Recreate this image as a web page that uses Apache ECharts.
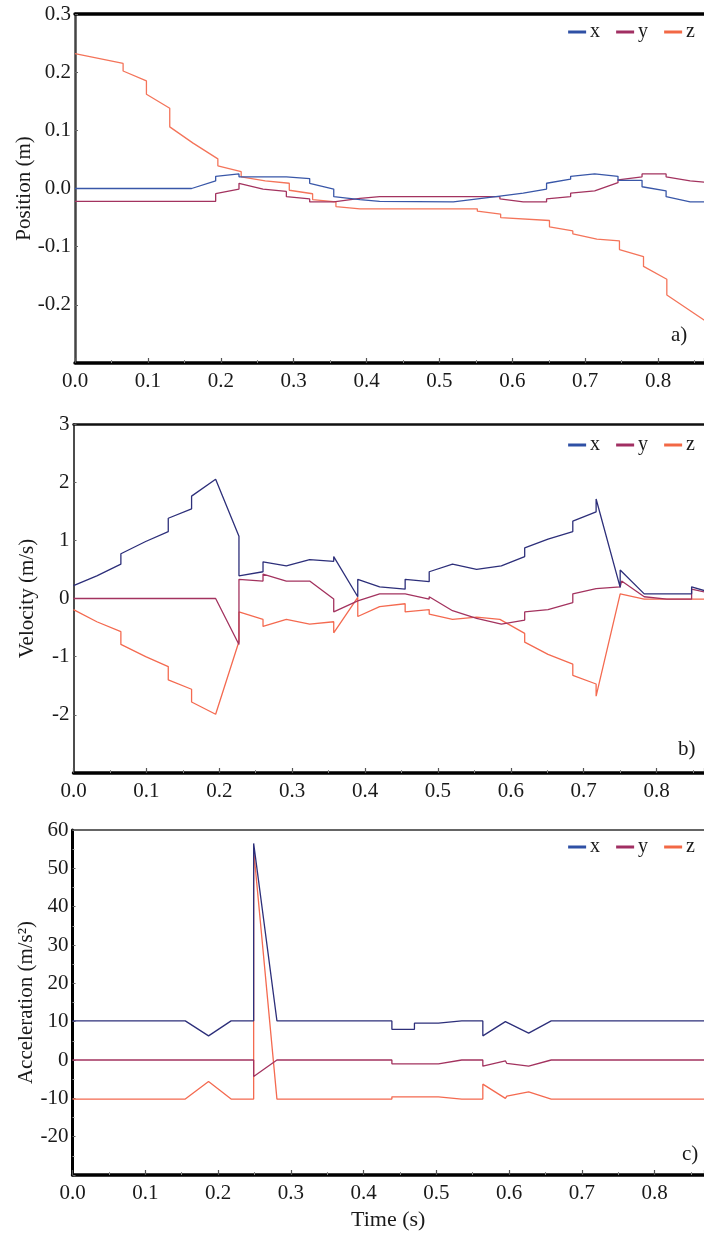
<!DOCTYPE html>
<html>
<head>
<meta charset="utf-8">
<script src="https://cdn.jsdelivr.net/npm/echarts@6/dist/echarts.min.js"></script>
<style>
html,body{margin:0;padding:0;background:#fff;}
#c{width:704px;height:1236px;}
</style>
</head>
<body>
<div id="c"></div>
<script>
// ---- Data: [time (s), value] ----
const seriesNames = ['x', 'y', 'z'];
const xTickLabels = ['0.0','0.1','0.2','0.3','0.4','0.5','0.6','0.7','0.8'];

const posX = [[0,0.0],[0.160,0.0],[0.193,0.013],[0.193,0.021],[0.225,0.025],[0.225,0.020],[0.290,0.020],[0.290,0.017],[0.322,0.017],[0.322,0.009],[0.355,-0.001],[0.355,-0.014],[0.391,-0.019],[0.418,-0.022],[0.519,-0.023],[0.583,-0.013],[0.615,-0.008],[0.647,-0.001],[0.647,0.009],[0.680,0.016],[0.680,0.021],[0.713,0.025],[0.745,0.021],[0.745,0.014],[0.778,0.014],[0.778,0.003],[0.811,-0.004],[0.811,-0.014],[0.844,-0.023],[0.87,-0.023]];
const posY = [[0,-0.022],[0.193,-0.022],[0.193,-0.009],[0.225,-0.001],[0.225,0.009],[0.258,-0.001],[0.290,-0.005],[0.290,-0.014],[0.322,-0.018],[0.322,-0.023],[0.355,-0.023],[0.391,-0.017],[0.418,-0.014],[0.583,-0.014],[0.583,-0.018],[0.615,-0.023],[0.647,-0.023],[0.647,-0.018],[0.680,-0.014],[0.680,-0.008],[0.713,-0.004],[0.745,0.010],[0.745,0.015],[0.778,0.020],[0.778,0.025],[0.811,0.025],[0.811,0.020],[0.844,0.013],[0.87,0.010]];
const posZ = [[0,0.232],[0.066,0.215],[0.066,0.202],[0.098,0.185],[0.098,0.162],[0.130,0.138],[0.130,0.106],[0.162,0.078],[0.196,0.051],[0.196,0.039],[0.228,0.029],[0.228,0.020],[0.261,0.013],[0.294,0.009],[0.294,-0.003],[0.326,-0.009],[0.326,-0.019],[0.358,-0.023],[0.358,-0.031],[0.391,-0.035],[0.552,-0.035],[0.552,-0.039],[0.584,-0.044],[0.584,-0.050],[0.651,-0.055],[0.651,-0.066],[0.683,-0.073],[0.683,-0.078],[0.716,-0.087],[0.747,-0.090],[0.747,-0.105],[0.780,-0.117],[0.780,-0.134],[0.812,-0.156],[0.812,-0.183],[0.87,-0.232]];

const velX = [[0,0.22],[0.032,0.39],[0.065,0.59],[0.065,0.77],[0.099,0.98],[0.130,1.15],[0.130,1.38],[0.162,1.54],[0.162,1.76],[0.195,2.05],[0.227,1.07],[0.227,0.39],[0.260,0.46],[0.260,0.63],[0.292,0.56],[0.324,0.67],[0.357,0.64],[0.357,0.72],[0.390,0.03],[0.390,0.33],[0.420,0.20],[0.455,0.16],[0.455,0.33],[0.488,0.29],[0.488,0.46],[0.520,0.59],[0.553,0.50],[0.587,0.56],[0.619,0.72],[0.619,0.87],[0.651,1.02],[0.685,1.15],[0.685,1.33],[0.717,1.49],[0.717,1.71],[0.750,0.19],[0.750,0.49],[0.783,0.08],[0.848,0.08],[0.848,0.20],[0.87,0.12]];
const velY = [[0,0],[0.195,0],[0.227,-0.79],[0.227,0.33],[0.260,0.30],[0.260,0.42],[0.292,0.30],[0.324,0.30],[0.357,-0.01],[0.357,-0.23],[0.390,-0.04],[0.420,0.08],[0.455,0.08],[0.488,-0.01],[0.488,0.03],[0.520,-0.21],[0.553,-0.34],[0.587,-0.44],[0.619,-0.37],[0.619,-0.23],[0.651,-0.19],[0.685,-0.07],[0.685,0.08],[0.717,0.17],[0.750,0.20],[0.752,0.30],[0.783,0.03],[0.814,-0.01],[0.848,-0.01],[0.848,0.16],[0.87,0.10]];
const velZ = [[0,-0.19],[0.032,-0.40],[0.065,-0.57],[0.065,-0.79],[0.099,-1.00],[0.130,-1.17],[0.130,-1.40],[0.162,-1.56],[0.162,-1.78],[0.195,-1.99],[0.227,-0.74],[0.227,-0.23],[0.260,-0.36],[0.260,-0.48],[0.292,-0.36],[0.324,-0.44],[0.357,-0.40],[0.357,-0.59],[0.390,0.02],[0.390,-0.31],[0.420,-0.14],[0.455,-0.09],[0.455,-0.23],[0.488,-0.19],[0.488,-0.27],[0.520,-0.36],[0.553,-0.32],[0.585,-0.36],[0.619,-0.60],[0.619,-0.75],[0.651,-0.96],[0.685,-1.13],[0.685,-1.32],[0.717,-1.47],[0.717,-1.68],[0.750,0.08],[0.783,-0.01],[0.87,-0.01]];

const accX = [[0,10.2],[0.155,10.2],[0.187,6.3],[0.218,10.2],[0.249,10.2],[0.249,56.5],[0.281,10.2],[0.439,10.2],[0.439,8.0],[0.470,8.0],[0.470,9.6],[0.503,9.6],[0.535,10.2],[0.564,10.2],[0.564,6.3],[0.595,10.0],[0.627,7.0],[0.658,10.2],[0.87,10.2]];
const accY = [[0,0],[0.249,0],[0.249,-4.3],[0.281,0],[0.439,0],[0.439,-1.0],[0.503,-1.0],[0.535,0],[0.564,0],[0.564,-1.6],[0.595,-0.2],[0.597,-0.9],[0.627,-1.6],[0.658,0],[0.87,0]];
const accZ = [[0,-10.2],[0.155,-10.2],[0.187,-5.6],[0.218,-10.2],[0.249,-10.2],[0.249,54.8],[0.281,-10.2],[0.439,-10.2],[0.439,-9.6],[0.503,-9.6],[0.535,-10.2],[0.564,-10.2],[0.564,-6.3],[0.595,-10.0],[0.597,-9.4],[0.627,-8.3],[0.658,-10.2],[0.87,-10.2]];

const panelTitles = ['Position (m)', 'Velocity (m/s)', 'Acceleration (m/s\u00B2)'];
const panelTags = ['a)', 'b)', 'c)'];
const timeTitle = 'Time (s)';

// ---- Styles ----
const FONT = '"Liberation Serif","Times New Roman",serif';
const legendColors = ['#2f50a5', '#a12f62', '#f26845'];
const lineColors = [
  ['#3957a8', '#a3335f', '#f4745a'],
  ['#2d2f7a', '#a3335f', '#f46a50'],
  ['#2d2f7a', '#a3335f', '#f46a50']
];
const grids = [
  {left: 75, right: 0, top: 14, height: 349},
  {left: 73.5, right: 0, top: 424, height: 349},
  {left: 72.5, right: 0, top: 830, height: 345}
];
const xMax = [0.863, 0.865, 0.868];
const yCfg = [
  {min: -0.3, max: 0.3, interval: 0.1, dec: 1, lineW: 2.5, lineC: '#444', gap: 40},
  {min: -3, max: 3, interval: 1, dec: 0, lineW: 1.5, lineC: '#111', gap: 36},
  {min: -30, max: 60, interval: 10, dec: 0, lineW: 3, lineC: '#000', gap: 36}
];
const topBorder = [{w: 3.5, c: '#000'}, {w: 2.5, c: '#111'}, {w: 1.6, c: '#333'}];
const legendTops = [17, 430, 832];
const tagPos = [[671, 325], [678, 739], [682, 1144]];

function isMult(v, step) {
  const r = v / step;
  return Math.abs(r - Math.round(r)) < 1e-6;
}

const xAxes = [], yAxes = [], series = [], legends = [], graphics = [];
const dataSets = [[posX, posY, posZ], [velX, velY, velZ], [accX, accY, accZ]];

for (let i = 0; i < 3; i++) {
  xAxes.push({
    type: 'value', gridIndex: i, min: 0, max: xMax[i], interval: 0.1,
    axisLine: {show: true, onZero: false, lineStyle: {color: '#000', width: 3.5}},
    axisTick: {show: true, inside: true, length: 5, lineStyle: {color: '#555', width: 1.2}},
    minorTick: {show: true, splitNumber: 2, length: 3, lineStyle: {color: '#888', width: 1}},
    splitLine: {show: false},
    axisLabel: {
      fontFamily: FONT, fontSize: 21, color: '#1a1a1a', margin: 8,
      showMaxLabel: false,
      formatter: v => isMult(v, 0.1) ? xTickLabels[Math.round(v * 10)] || '' : ''
    },
    name: i === 2 ? timeTitle : '',
    nameLocation: 'middle', nameGap: 34, nameMoveOverlap: false,
    nameTextStyle: {fontFamily: FONT, fontSize: 22, color: '#1a1a1a'}
  });
}
for (let i = 0; i < 3; i++) {
  xAxes.push({
    type: 'value', gridIndex: i, position: 'top', min: 0, max: xMax[i],
    axisLine: {show: true, onZero: false, lineStyle: {color: topBorder[i].c, width: topBorder[i].w}},
    axisTick: {show: false}, axisLabel: {show: false}, splitLine: {show: false}
  });
}
for (let i = 0; i < 3; i++) {
  const c = yCfg[i];
  yAxes.push({
    type: 'value', gridIndex: i, min: c.min, max: c.max, interval: c.interval,
    axisLine: {show: true, onZero: false, lineStyle: {color: c.lineC, width: c.lineW}},
    axisTick: {show: true, inside: true, length: 3, lineStyle: {color: '#666', width: 1}},
    minorTick: {show: i === 2, splitNumber: 2, length: 2, lineStyle: {color: '#999', width: 1}},
    splitLine: {show: false},
    axisLabel: {
      fontFamily: FONT, fontSize: 21, color: '#1a1a1a', margin: 4,
      showMinLabel: false,
      formatter: v => v.toFixed(c.dec)
    },
    name: panelTitles[i], nameLocation: 'middle', nameGap: c.gap, nameMoveOverlap: false,
    nameTextStyle: {fontFamily: FONT, fontSize: 21, color: '#1a1a1a'}
  });
  for (let k = 0; k < 3; k++) {
    series.push({
      type: 'line', name: seriesNames[k], xAxisIndex: i, yAxisIndex: i,
      data: dataSets[i][k], showSymbol: false, symbol: 'none',
      lineStyle: {color: lineColors[i][k], width: 1.3},
      itemStyle: {color: lineColors[i][k]},
      clip: true, z: 3 - k
    });
  }
  legends.push({
    right: 4, top: legendTops[i], orient: 'horizontal',
    icon: 'rect', itemWidth: 18, itemHeight: 3, itemGap: 16,
    textStyle: {fontFamily: FONT, fontSize: 20, color: '#1a1a1a', padding: [0, 0, 0, -1]},
    data: seriesNames.map((n, k) => ({name: n, itemStyle: {color: legendColors[k]}}))
  });
  graphics.push({
    type: 'text', left: tagPos[i][0], top: tagPos[i][1],
    style: {text: panelTags[i], font: '21px ' + FONT, fill: '#1a1a1a'}
  });
}

const chart = echarts.init(document.getElementById('c'), null, {renderer: 'canvas'});
chart.setOption({
  animation: false,
  backgroundColor: '#fff',
  grid: grids,
  xAxis: xAxes,
  yAxis: yAxes,
  legend: legends,
  series: series,
  graphic: graphics
});
</script>
</body>
</html>
